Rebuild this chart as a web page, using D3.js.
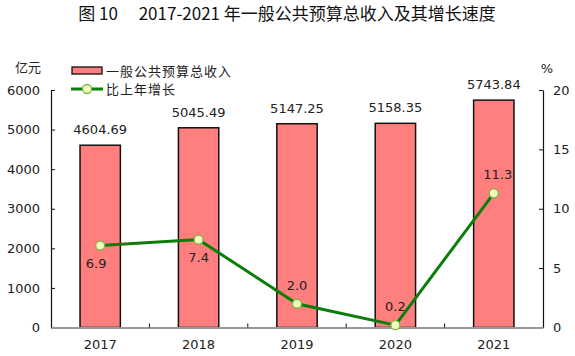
<!DOCTYPE html>
<html><head><meta charset="utf-8">
<script src="https://cdn.jsdelivr.net/npm/d3@7"></script>
<style>
body{margin:0;background:#fff;}
svg{display:block;}
text{font-family:"DejaVu Sans",sans-serif;fill:#222;}
.cjk{font-family:"Noto Sans CJK SC",sans-serif;}
</style></head>
<body><svg id="c" width="575" height="356"></svg>
<script>
const years = ["2017","2018","2019","2020","2021"];
const revenue = [4604.69, 5045.49, 5147.25, 5158.35, 5743.84];
const growth = [6.9, 7.4, 2.0, 0.2, 11.3];
const leftTicks = [0,1000,2000,3000,4000,5000,6000];
const rightTicks = [0,5,10,15,20];
const growthLabelPos = ["below","below","above","above","above"];

const svg = d3.select("#c");
const L = 51, R = 543, T = 90, B = 327.5;

const x = d3.scaleBand().domain(years).range([L, R]).padding(0);
const yL = d3.scaleLinear().domain([0,6000]).range([B, T]);
const yR = d3.scaleLinear().domain([0,20]).range([B, T]);
const barW = x.bandwidth()*0.41;

// title
svg.append("text").attr("class","cjk").attr("x",287).attr("y",20)
  .attr("text-anchor","middle").attr("font-size",17).style("fill","#111")
  .text("图 10\u2003 2017-2021 年一般公共预算总收入及其增长速度");

// unit labels
svg.append("text").attr("class","cjk").attr("x",28).attr("y",72).attr("text-anchor","middle")
  .attr("font-size",13).text("亿元");
svg.append("text").attr("x",547).attr("y",73).attr("text-anchor","middle")
  .attr("font-size",13).text("%");

// bars
svg.selectAll("rect.bar").data(revenue).enter().append("rect")
  .attr("class","bar")
  .attr("x",(d,i)=>x(years[i])+x.bandwidth()/2-barW/2)
  .attr("y",d=>yL(d))
  .attr("width",barW)
  .attr("height",d=>B-yL(d))
  .attr("fill","#ff7f7f").attr("stroke","#111").attr("stroke-width",1.5);

svg.selectAll("text.bv").data(revenue).enter().append("text")
  .attr("class","bv")
  .attr("x",(d,i)=>x(years[i])+x.bandwidth()/2)
  .attr("y",d=>yL(d)-11)
  .attr("text-anchor","middle").attr("font-size",13)
  .text(d=>d.toFixed(2));

// left axis
const gL = svg.append("g").attr("transform",`translate(${L},0)`)
  .call(d3.axisLeft(yL).tickValues(leftTicks).tickFormat(d3.format("d")).tickSizeInner(-4).tickSizeOuter(0).tickPadding(11));
gL.select(".domain").attr("stroke","#111").attr("stroke-width",1.2);
gL.selectAll(".tick line").attr("stroke","#111");
gL.selectAll(".tick text").attr("font-size",13).style("fill","#222");

// right axis
const gR = svg.append("g").attr("transform",`translate(${R},0)`)
  .call(d3.axisRight(yR).tickValues(rightTicks).tickFormat(d3.format("d")).tickSizeInner(-4).tickSizeOuter(0).tickPadding(10));
gR.select(".domain").attr("stroke","#111").attr("stroke-width",1.2);
gR.selectAll(".tick line").attr("stroke","#111");
gR.selectAll(".tick text").attr("font-size",13).style("fill","#222");

// bottom axis
const gB = svg.append("g").attr("transform",`translate(0,${B})`)
  .call(d3.axisBottom(x).tickSize(0).tickPadding(12));
gB.select(".domain").attr("stroke","#999").attr("stroke-width",1.8);
gB.selectAll(".tick text").attr("font-size",13).style("fill","#222");
// category separator ticks (inward)
const seps = years.slice(1).map(y=>x(y));
svg.selectAll("line.sep").data(seps).enter().append("line")
  .attr("x1",d=>d).attr("x2",d=>d).attr("y1",B-4).attr("y2",B)
  .attr("stroke","#111").attr("stroke-width",1);

// growth line
const cx = (d,i)=>x(years[i])+x.bandwidth()/2;
const line = d3.line().x((d,i)=>cx(d,i)).y(d=>yR(d));
svg.append("path").datum(growth).attr("d",line)
  .attr("fill","none").attr("stroke","#0a7d0a").attr("stroke-width",3);
svg.selectAll("circle.pt").data(growth).enter().append("circle")
  .attr("class","pt").attr("cx",cx).attr("cy",d=>yR(d)).attr("r",4.5)
  .attr("fill","#f2ffc4").attr("stroke","#7fb53c").attr("stroke-width",1.3);
svg.selectAll("text.gv").data(growth).enter().append("text")
  .attr("class","gv")
  .attr("x",(d,i)=>cx(d,i)+(i===4?4:(i===0?-4:0)))
  .attr("y",(d,i)=>growthLabelPos[i]==="below"?yR(d)+22:yR(d)-14)
  .attr("text-anchor","middle").attr("font-size",13)
  .text(d=>d.toFixed(1));

// legend
const lg = svg.append("g");
lg.append("rect").attr("x",72).attr("y",67).attr("width",30).attr("height",7)
  .attr("fill","#ff7f7f").attr("stroke","#111").attr("stroke-width",1.3);
lg.append("text").attr("class","cjk").attr("x",106).attr("y",75.5).attr("font-size",13)
  .style("letter-spacing","1px").text("一般公共预算总收入");
lg.append("line").attr("x1",71).attr("x2",103).attr("y1",89).attr("y2",89)
  .attr("stroke","#0a7d0a").attr("stroke-width",3);
lg.append("circle").attr("cx",87).attr("cy",89).attr("r",4.5)
  .attr("fill","#f2ffc4").attr("stroke","#7fb53c").attr("stroke-width",1.3);
lg.append("text").attr("class","cjk").attr("x",106).attr("y",94).attr("font-size",13)
  .style("letter-spacing","1px").text("比上年增长");
</script></body></html>
